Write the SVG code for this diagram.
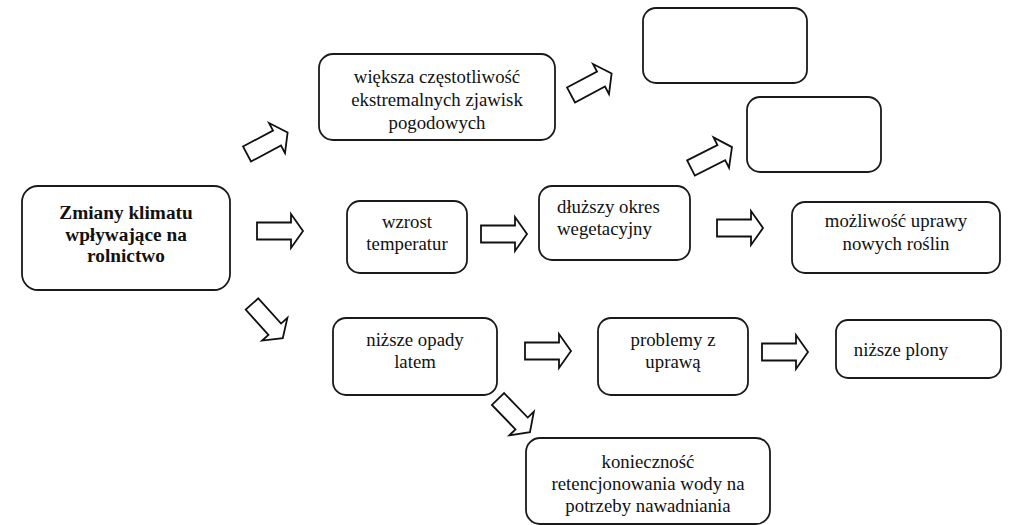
<svg xmlns="http://www.w3.org/2000/svg" xmlns:xlink="http://www.w3.org/1999/xlink" width="1010" height="525" viewBox="0 0 1010 525">
  <style>
    .box { fill: #fff; stroke: #1a1a1a; stroke-width: 1.8; }
    text { font-family: 'Liberation Serif', 'DejaVu Serif', serif; font-size: 18.8px; fill: #111; }
    .c { text-anchor: middle; }
    .b { font-weight: bold; font-size: 19.3px; }
    .arr { fill: #fff; stroke: #111; stroke-width: 1.8; stroke-linejoin: miter; }
  </style>
  <defs>
    <!-- block arrow pointing right, tail centre at origin -->
    <path id="arrow" d="M0,-8.5 H34 V-17 L46,0 L34,17 V8.5 H0 Z"/>
  </defs>
  <rect width="1010" height="525" fill="#fff"/>

  <g id="connectors" class="arr">
    <use xlink:href="#arrow" transform="translate(247,154) rotate(-28)"/>
    <use xlink:href="#arrow" transform="translate(257,231)"/>
    <use xlink:href="#arrow" transform="translate(252,304) rotate(48)"/>
    <use xlink:href="#arrow" transform="translate(571,95) rotate(-28)"/>
    <use xlink:href="#arrow" transform="translate(691,168) rotate(-27)"/>
    <use xlink:href="#arrow" transform="translate(481,234)"/>
    <use xlink:href="#arrow" transform="translate(717,228)"/>
    <use xlink:href="#arrow" transform="translate(525,351)"/>
    <use xlink:href="#arrow" transform="translate(762,352)"/>
    <use xlink:href="#arrow" transform="translate(498,399) rotate(46)"/>
  </g>

  <g id="main">
    <rect class="box" x="22" y="186" width="208" height="104" rx="16"/>
    <text class="c b" x="126" y="219">Zmiany klimatu</text>
    <text class="c b" x="126" y="241">wpływające na</text>
    <text class="c b" x="126" y="262">rolnictwo</text>
  </g>

  <g id="extreme">
    <rect class="box" x="319" y="54" width="236" height="86" rx="14"/>
    <text class="c" x="437" y="83">większa częstotliwość</text>
    <text class="c" x="437" y="106">ekstremalnych zjawisk</text>
    <text class="c" x="437" y="129">pogodowych</text>
  </g>

  <g id="empty1">
    <rect class="box" x="643" y="8" width="164" height="75" rx="13"/>
  </g>

  <g id="empty2">
    <rect class="box" x="747" y="97" width="134" height="75" rx="13"/>
  </g>

  <g id="temp">
    <rect class="box" x="347" y="201" width="120" height="72" rx="13"/>
    <text class="c" x="407" y="228">wzrost</text>
    <text class="c" x="407" y="250">temperatur</text>
  </g>

  <g id="season">
    <rect class="box" x="539" y="186" width="151" height="74" rx="13"/>
    <text x="557" y="213">dłuższy okres</text>
    <text x="557" y="235">wegetacyjny</text>
  </g>

  <g id="crops">
    <rect class="box" x="792" y="202" width="208" height="71" rx="13"/>
    <text class="c" x="896" y="227">możliwość uprawy</text>
    <text class="c" x="896" y="250">nowych roślin</text>
  </g>

  <g id="rain">
    <rect class="box" x="333" y="318" width="164" height="77" rx="13"/>
    <text class="c" x="415" y="346">niższe opady</text>
    <text class="c" x="415" y="368">latem</text>
  </g>

  <g id="problems">
    <rect class="box" x="598" y="318" width="150" height="77" rx="13"/>
    <text class="c" x="673" y="346">problemy z</text>
    <text class="c" x="673" y="368">uprawą</text>
  </g>

  <g id="yield">
    <rect class="box" x="836" y="320" width="165" height="58" rx="12"/>
    <text class="c" x="901" y="356">niższe plony</text>
  </g>

  <g id="retention">
    <rect class="box" x="526" y="438" width="244" height="86" rx="14"/>
    <text class="c" x="648" y="468">konieczność</text>
    <text class="c" x="648" y="490">retencjonowania wody na</text>
    <text class="c" x="648" y="512">potrzeby nawadniania</text>
  </g>
</svg>
